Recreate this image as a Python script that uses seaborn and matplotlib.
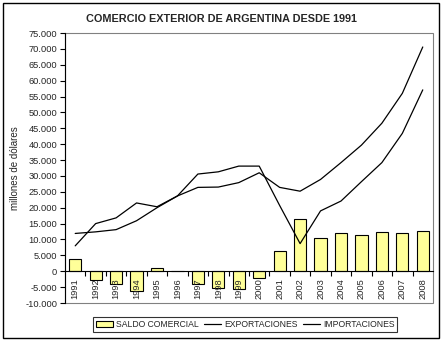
import matplotlib
matplotlib.use("Agg")
import matplotlib.pyplot as plt
from matplotlib.patches import Rectangle, Patch
from matplotlib.lines import Line2D
from matplotlib.ticker import FuncFormatter, FixedLocator
import seaborn as sns
import pandas as pd

years = [str(y) for y in range(1991, 2009)]
saldo = [3800, -2900, -3900, -6200, 900, 0, -4100, -5200, -5600, -2200,
         6300, 16300, 10600, 12000, 11400, 12300, 12000, 12800]
exportaciones = [11900, 12400, 13100, 15900, 20000, 23700, 26400, 26500, 27900, 31000,
                 26400, 25200, 28900, 34200, 39700, 46600, 56000, 70600]
importaciones = [8000, 15000, 16800, 21500, 20300, 23700, 30600, 31300, 33100, 33100,
                 20700, 8700, 19000, 22100, 28200, 34200, 43400, 57100]

sns.set_style("white")
plt.rcParams["font.family"] = ["Liberation Sans", "DejaVu Sans"]

df = pd.DataFrame({"anio": years, "saldo": saldo})

fig = plt.figure(figsize=(4.43, 3.42), dpi=100)
ax = fig.add_axes([0.1467, 0.114, 0.8307, 0.7895])

sns.barplot(data=df, x="anio", y="saldo", color="#FFFF99", edgecolor="black",
            linewidth=0.8, width=0.6, saturation=1, ax=ax, zorder=1)
xs = list(range(len(years)))
ax.plot(xs, exportaciones, color="black", lw=0.9, zorder=3)
ax.plot(xs, importaciones, color="black", lw=0.9, zorder=3)

ax.set_xlim(-0.5, len(years) - 0.5)
ax.set_ylim(-10000, 75000)
ax.set_yticks(range(-10000, 75001, 5000))
ax.yaxis.set_major_formatter(FuncFormatter(lambda v, p: f"{int(v):,}".replace(",", ".")))
ax.tick_params(axis="y", labelsize=6.7, length=3.5, width=0.8, direction="out",
               color="black", pad=2, left=True)

# category axis crossing at zero, ticks between categories
ax.spines["bottom"].set_position(("data", 0))
ax.spines["bottom"].set_color("black")
ax.spines["bottom"].set_linewidth(0.8)
ax.spines["left"].set_color("black")
ax.spines["left"].set_linewidth(0.8)
for s in ("top", "right"):
    ax.spines[s].set_visible(False)
ax.xaxis.set_minor_locator(FixedLocator([i + 0.5 for i in range(len(years) - 1)]))
ax.tick_params(axis="x", which="major", length=0, labelsize=6.7, rotation=90, pad=5)
ax.tick_params(axis="x", which="minor", length=3.5, width=0.8, direction="out",
               color="black", bottom=True)
ax.set_axisbelow(False)
for lbl in ax.get_xticklabels():
    lbl.set_zorder(5)

ax.add_patch(Rectangle((0, 0), 1, 1, transform=ax.transAxes, fill=False,
                       edgecolor="#808080", lw=0.8, zorder=0.5, clip_on=False))

ax.set_xlabel("")
ax.set_ylabel("millones de dólares", fontsize=7, labelpad=4)

fig.text(0.5, 0.944, "COMERCIO EXTERIOR DE ARGENTINA DESDE 1991",
         ha="center", va="center", fontsize=7.8, fontweight="bold")

handles = [Patch(facecolor="#FFFF99", edgecolor="black", lw=0.8),
           Line2D([], [], color="black", lw=0.9),
           Line2D([], [], color="black", lw=0.9)]
leg = fig.legend(handles, ["SALDO COMERCIAL", "EXPORTACIONES", "IMPORTACIONES"],
                 loc="center", bbox_to_anchor=(0.553, 0.05), ncol=3, fontsize=6.2,
                 frameon=True, fancybox=False, edgecolor="black", borderpad=0.35,
                 handlelength=2.0, handletextpad=0.35, columnspacing=0.6,
                 handleheight=0.7)
leg.get_frame().set_linewidth(0.8)

fig.patches.append(Rectangle((3 / 443, 1 - 338 / 342), 436 / 443, 335 / 342,
                             transform=fig.transFigure, fill=False,
                             edgecolor="black", lw=1.0))

fig.savefig("out.png", dpi=100)
